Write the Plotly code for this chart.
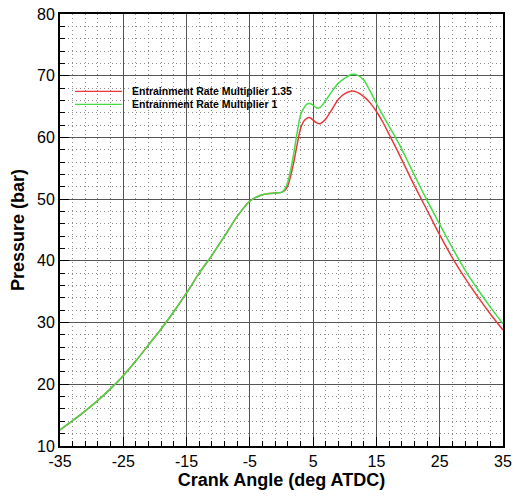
import plotly.graph_objects as go

# Crank angle samples (deg ATDC)
crank_angle = [-35, -33, -31, -29, -27, -25, -23, -21, -19, -17, -15, -13, -11, -9, -7,
               -5, -4, -3, -2, -1, 0, 0.5, 1, 1.5, 2, 2.5, 3, 3.5, 4, 4.5, 5, 5.5, 6,
               6.5, 7, 8, 9, 10, 11, 12, 13, 14, 15, 16, 17, 18, 19, 20, 21, 22, 23,
               25, 27, 29, 31, 33, 35]

# Cylinder pressure (bar), entrainment rate multiplier 1.35
pressure_erm_135 = [12.6, 14.1, 15.7, 17.4, 19.3, 21.4, 23.8, 26.4, 29.0, 31.8, 34.8,
                    38.0, 40.9, 44.0, 47.2, 49.7, 50.3, 50.7, 50.9, 51.0, 51.1, 51.4,
                    52.2, 54.0, 56.3, 59.0, 61.4, 62.6, 63.1, 63.2, 62.8, 62.4, 62.2,
                    62.5, 63.0, 64.6, 66.2, 67.1, 67.5, 67.3, 66.6, 65.6, 64.2, 62.5,
                    60.5, 58.5, 56.4, 54.3, 52.2, 50.2, 48.2, 44.2, 40.5, 37.2, 34.2,
                    31.4, 28.8]

# Cylinder pressure (bar), entrainment rate multiplier 1
pressure_erm_1 = [12.6, 14.1, 15.7, 17.4, 19.3, 21.4, 23.8, 26.4, 29.0, 31.8, 34.8,
                  38.0, 40.9, 44.0, 47.2, 49.7, 50.3, 50.7, 50.9, 51.0, 51.1, 51.6,
                  52.8, 55.0, 57.8, 61.0, 63.6, 64.7, 65.4, 65.5, 65.2, 64.8, 64.8,
                  65.3, 66.0, 67.5, 68.8, 69.6, 70.2, 70.1, 69.3, 67.5, 65.5, 63.6,
                  61.8, 60.0, 58.1, 56.0, 53.9, 51.8, 49.8, 45.9, 42.1, 38.5, 35.4,
                  32.5, 29.8]

series_names = ["Entrainment Rate Multiplier 1.35", "Entrainment Rate Multiplier 1"]
series_colors = ["#e83a3a", "#45dc45"]

x_ticks = [-35, -25, -15, -5, 5, 15, 25, 35]
y_ticks = [10, 20, 30, 40, 50, 60, 70, 80]

FONT = "Arial, Liberation Sans, sans-serif"
NARROW = "Liberation Sans Narrow, Arial Narrow, Arial, sans-serif"

fig = go.Figure()
for name, color, values in zip(series_names, series_colors,
                               [pressure_erm_135, pressure_erm_1]):
    fig.add_trace(go.Scatter(
        x=crank_angle, y=values, mode="lines", name=name,
        line=dict(color=color, width=1.5, shape="spline", smoothing=0.8),
        showlegend=False,
    ))

axis_common = dict(
    showline=True, linecolor="black", linewidth=2, mirror=True,
    showgrid=True, gridcolor="#555555", gridwidth=1,
    ticks="inside", ticklen=9, tickcolor="black", tickwidth=1,
    zeroline=False, automargin=False,
    tickfont=dict(family=FONT, size=16, color="black"),
)
minor_common = dict(dtick=2, showgrid=True, gridcolor="#8c8c8c",
                    griddash="1px,3px", gridwidth=1, ticks="inside",
                    ticklen=5, tickcolor="black")

fig.update_xaxes(
    range=[-35, 35], tickmode="array", tickvals=x_ticks,
    ticktext=[str(v) for v in x_ticks],
    minor=dict(tick0=-35, **minor_common),
    title=dict(text="<b>Crank Angle (deg ATDC)</b>", standoff=2,
               font=dict(family=FONT, size=18, color="black")),
    **axis_common,
)
fig.update_yaxes(
    range=[10, 80], tickmode="array", tickvals=y_ticks,
    ticktext=[str(v) for v in y_ticks],
    minor=dict(tick0=10, **minor_common),
    title=dict(text="<b>Pressure (bar)</b>", standoff=8,
               font=dict(family=FONT, size=18, color="black")),
    **axis_common,
)

# Legend drawn as short line samples with bold narrow labels
legend_rows_y = [0.8207, 0.7906]
for name, color, ly in zip(series_names, series_colors, legend_rows_y):
    fig.add_shape(type="line", xref="paper", yref="paper",
                  x0=0.034, x1=0.140, y0=ly, y1=ly,
                  line=dict(color=color, width=1.2))
    fig.add_annotation(xref="paper", yref="paper", x=0.158, y=ly,
                       xanchor="left", yanchor="middle", showarrow=False,
                       text="<b>" + name + "</b>",
                       font=dict(family=NARROW, size=10.5, color="black"))

fig.update_layout(
    width=514, height=496,
    margin=dict(l=60, r=11, t=14, b=50),
    paper_bgcolor="white", plot_bgcolor="white",
    showlegend=False,
)

fig.write_html("out.html")
